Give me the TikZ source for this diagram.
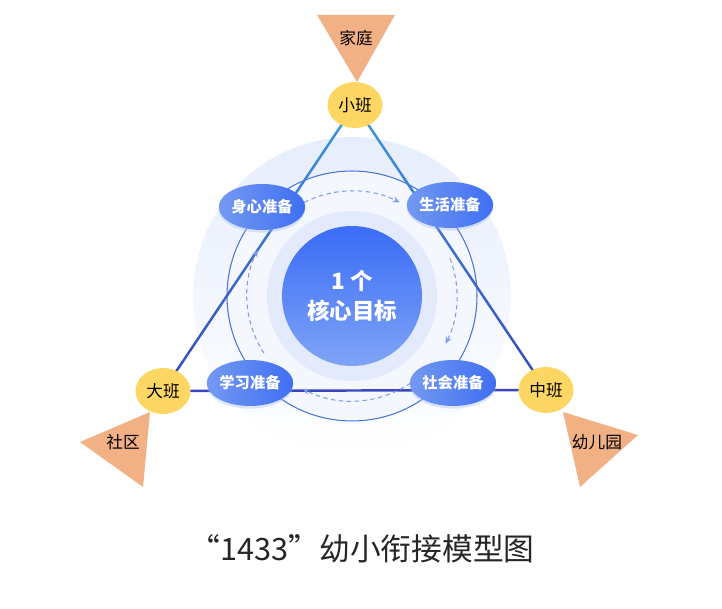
\documentclass[tikz,border=0pt]{standalone}
\usepackage{fontspec}
\setmainfont{Noto Sans CJK SC}
\usepackage{tikz}
\usetikzlibrary{shapes.geometric, arrows.meta, calc, backgrounds, shadows, fadings}
\definecolor{gradeYellow}{HTML}{FDD663}
\definecolor{placeOrange}{HTML}{F2B085}
\definecolor{prepDark}{HTML}{3F6FF2}
\definecolor{prepLight}{HTML}{7399F1}
\definecolor{coreTop}{HTML}{3A6CF6}
\definecolor{coreBot}{HTML}{7FA4F6}
\definecolor{ringBlue}{HTML}{4A72E0}
\definecolor{paleBlue}{HTML}{E6EDFC}
\definecolor{innerBlue}{HTML}{F4F7FE}
\definecolor{haloBlue}{HTML}{E2EAFB}
\definecolor{lineTop}{HTML}{3A98DA}
\definecolor{lineBot}{HTML}{3A45BE}
\tikzstyle{grade} = [ellipse, fill=gradeYellow, minimum width=1.1cm,
    minimum height=0.92cm, inner sep=0pt, font=\fontsize{9.5}{10}\selectfont]
\tikzstyle{prep} = [ellipse, left color=prepLight, right color=prepDark,
    text=white, minimum width=1.5cm, minimum height=0.92cm, inner sep=0pt,
    font=\fontsize{8.7}{9}\selectfont\bfseries,
    drop shadow={shadow xshift=0pt, shadow yshift=-1.5pt, fill=prepDark!50, opacity=0.35}]
\tikzstyle{place} = [fill=placeOrange]
\tikzstyle{placetext} = [font=\fontsize{9.5}{10}\selectfont]
\tikzstyle{cycle} = [draw=ringBlue!70, line width=0.6pt, dash pattern=on 2.5pt off 2pt,
    -{Stealth[length=4pt, width=3.5pt]}]

\begin{document}
\begin{tikzpicture}[x=0.02cm, y=0.02cm,
    edge/.style={line width=1.4pt, line cap=round},
    ]
    \useasboundingbox (0,0) rectangle (722,608);
    % Core
    \node [circle, fill=haloBlue, minimum size=3.4cm] (halo) at (352,312) {};
    \node [circle, top color=coreTop, bottom color=coreBot, minimum size=2.8cm,
        text=white, align=center, font=\fontsize{12.8}{17}\selectfont\bfseries] (core) at (352,312)
        {1 个\\核心目标};

    % Cycle
    \draw [cycle] ($(core)+(117:2.1cm)$) arc [start angle=117, end angle=63, radius=2.1cm];
    \draw [cycle] ($(core)+(21:2.1cm)$) arc [start angle=21, end angle=-27, radius=2.1cm];
    \draw [cycle] ($(core)+(-56:2.1cm)$) arc [start angle=-56, end angle=-118, radius=2.1cm];
    \draw [cycle] ($(core)+(213:2.1cm)$) arc [start angle=213, end angle=154, radius=2.1cm];

    % Preparations
    \node [prep] (body) at (262,401) {身心准备};
    \node [prep] (life) at (450,403) {生活准备};
    \node [prep] (study) at (250,225) {学习准备};
    \node [prep] (social) at (453,225) {社会准备};

    % Grades
    \node [grade] (small) at (355,503) {小班};
    \node [grade] (big) at (163,217) {大班};
    \node [grade] (middle) at (546,218) {中班};

    % Places
    \fill [place] (317,593) -- (395,593) -- (357,526) -- cycle;
    \fill [place] (80,166) -- (150,196) -- (143,121) -- cycle;
    \fill [place] (563,196) -- (638,173) -- (580,121) -- cycle;
    \node [placetext] (home) at (356,570) {家庭};
    \node [placetext] (community) at (123,166) {社区};
    \node [placetext] (kinder) at (597,166) {幼儿园};

    % Background and edges
    \begin{scope}[on background layer]
        \fill [paleBlue, path fading=south] (core.center) circle (3.18cm);
        \fill [innerBlue] (core.center) circle (2.5cm);
        \draw [ringBlue, line width=0.6pt] (core.center) circle (2.5cm);
        \foreach \i in {0,...,19} {
            \pgfmathsetmacro\a{\i/20}
            \pgfmathsetmacro\b{(\i+1)/20}
            \pgfmathsetmacro\p{100-\i*5}
            \draw [edge, color=lineTop!\p!lineBot] ($(small)!\a!(big)$) -- ($(small)!\b!(big)$);
            \draw [edge, color=lineTop!\p!lineBot] ($(small)!\a!(middle)$) -- ($(small)!\b!(middle)$);
        }
        \draw [edge, color=lineBot] (big) -- (middle);
    \end{scope}

    % Title
    \node [font=\fontsize{17.5}{19}\selectfont, text=black!85] (title) at (362,59) {“1433”幼小衔接模型图};
\end{tikzpicture}
\end{document}
